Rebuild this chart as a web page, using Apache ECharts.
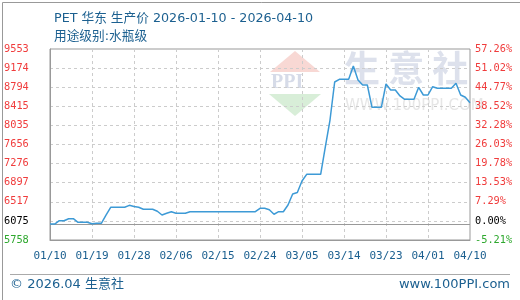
<!DOCTYPE html>
<html>
<head>
<meta charset="utf-8">
<script src="https://cdn.jsdelivr.net/npm/echarts@6/dist/echarts.min.js"></script>
<style>
html,body{margin:0;padding:0;background:#fff;}
#c{width:520px;height:300px;}
</style>
</head>
<body>
<div id="c"></div>
<script>
var categories = [
'01/10','01/11','01/12','01/13','01/14','01/15','01/16','01/17','01/18','01/19',
'01/20','01/21','01/22','01/23','01/24','01/25','01/26','01/27','01/28','01/29',
'01/30','01/31','02/01','02/02','02/03','02/04','02/05','02/06','02/07','02/08',
'02/09','02/10','02/11','02/12','02/13','02/14','02/15','02/16','02/17','02/18',
'02/19','02/20','02/21','02/22','02/23','02/24','02/25','02/26','02/27','02/28',
'03/01','03/02','03/03','03/04','03/05','03/06','03/07','03/08','03/09','03/10',
'03/11','03/12','03/13','03/14','03/15','03/16','03/17','03/18','03/19','03/20',
'03/21','03/22','03/23','03/24','03/25','03/26','03/27','03/28','03/29','03/30',
'03/31','04/01','04/02','04/03','04/04','04/05','04/06','04/07','04/08','04/09',
'04/10'];

var prices = [
6075,6075,6141,6141,6181,6181,6110,6110,6110,6080,
6090,6090,6250,6408,6408,6408,6408,6447,6425,6408,
6368,6368,6368,6330,6255,6289,6320,6289,6289,6289,
6320,6320,6320,6320,6320,6320,6320,6320,6320,6320,
6320,6320,6320,6320,6320,6388,6388,6360,6269,6320,
6320,6453,6672,6700,6930,7063,7063,7063,7063,7606,
8142,8897,8951,8951,8951,9215,8937,8838,8838,8395,
8395,8395,8858,8739,8739,8620,8554,8554,8554,8792,
8639,8639,8804,8772,8772,8772,8772,8872,8639,8594,
8486];

var leftTickLabels = ['5758','6075','6517','6897','7276','7656','8035','8415','8794','9174','9553'];
var rightTickLabels = ['-5.21%','0.00%','7.29%','13.53%','19.78%','26.03%','32.28%','38.52%','44.77%','51.02%','57.26%'];
var basePrice = 6075;
var axisMin = 5758, axisMax = 9553;

var chart = echarts.init(document.getElementById('c'));
var interval = (axisMax - axisMin) / 10;
function tickIndex(v){ return Math.round((v - axisMin) / interval); }
function styleKey(i){ return i === 0 ? 'g' : (i === 1 ? 'k' : 'r'); }
var labelFont = '"DejaVu Sans Mono", monospace';
var rich = {
  r:{color:'#f03c3c', fontFamily:labelFont, fontSize:10.3},
  k:{color:'#000000', fontFamily:labelFont, fontSize:10.3},
  g:{color:'#2ea82e', fontFamily:labelFont, fontSize:10.3}
};
var blue = '#1c6090';
var titleFont = '"DejaVu Sans","Noto Sans CJK SC",sans-serif';

chart.setOption({
  animation:false,
  backgroundColor:'#fff',
  title:[
    {text:'PET 华东 生产价 2026-01-10 - 2026-04-10', left:49, top:7,
     textStyle:{color:blue, fontSize:12.7, fontWeight:'normal', fontFamily:titleFont}},
    {text:'用途级别:水瓶级', left:49, top:25,
     textStyle:{color:blue, fontSize:12.7, fontWeight:'normal', fontFamily:titleFont}}
  ],
  grid:{left:50, right:50, top:49, bottom:60, show:true, borderColor:'#999', borderWidth:1, backgroundColor:'transparent'},
  graphic:[
    {type:'rect', left:0, top:0, shape:{width:519, height:299}, style:{fill:'none', stroke:'#999', lineWidth:1}, z:-10},
    {type:'polygon', shape:{points:[[295,51],[270,72],[320,72]]}, style:{fill:'#f8d8d4'}, z:-5},
    {type:'text', left:271, top:73, style:{text:'PPI', fontSize:20, fontWeight:'bold', fontFamily:'"Liberation Serif",serif', fill:'#d6dbe8'}, z:-5},
    {type:'polygon', shape:{points:[[269,94],[321,94],[295,116]]}, style:{fill:'#d8eed8'}, z:-5},
    {type:'text', left:344, top:50, style:{text:'生 意 社', fontSize:36, fontWeight:'bold', fontFamily:'"Noto Sans CJK SC",sans-serif', fill:'#dde1ec'}, z:-5},
    {type:'text', left:345, top:99, style:{text:'WWW.100PPI.COM', fontSize:15, fontFamily:'"DejaVu Sans",sans-serif', fill:'#e6e6e6'}, z:-5},
    {type:'line', shape:{x1:10, y1:274.5, x2:510, y2:274.5}, style:{stroke:'#aaa', lineWidth:1}},
    {type:'text', left:10, top:278, style:{text:'© 2026.04 生意社', fontSize:13, fontFamily:titleFont, fill:blue}},
    {type:'text', right:10, top:278, style:{text:'www.100PPI.com', fontSize:13, fontFamily:'"DejaVu Sans",sans-serif', fill:blue}}
  ],
  xAxis:{
    type:'category', data:categories, boundaryGap:false,
    axisLine:{lineStyle:{color:'#999'}},
    axisTick:{show:false},
    axisLabel:{interval:8, color:blue, fontFamily:labelFont, fontSize:11, margin:11},
    splitLine:{show:true, interval:8, lineStyle:{color:'#ccc', type:[3,3]}}
  },
  yAxis:[
    {type:'value', min:axisMin, max:axisMax, interval:interval, position:'left',
     axisLine:{show:true, lineStyle:{color:'#999'}}, axisTick:{show:false},
     splitLine:{lineStyle:{color:'#ccc', type:[3,3]}},
     axisLabel:{align:'left', margin:46, rich:rich,
       formatter:function(v){ var i=tickIndex(v); return '{'+styleKey(i)+'|'+leftTickLabels[i]+'}'; }}},
    {type:'value', min:axisMin, max:axisMax, interval:interval, position:'right',
     axisLine:{show:false}, axisTick:{show:false}, splitLine:{show:false},
     axisLabel:{align:'left', margin:5, rich:rich,
       formatter:function(v){ var i=tickIndex(v); return '{'+styleKey(i)+'|'+rightTickLabels[i]+'}'; }}}
  ],
  series:[{
    type:'line', data:prices, showSymbol:false, symbol:'none',
    lineStyle:{color:'#3d9ad6', width:1.5},
    markLine:{silent:true, symbol:'none', label:{show:false},
      lineStyle:{color:'#999', type:'solid', width:1},
      data:[{yAxis:basePrice}]},
    z:5
  }]
});
</script>
</body>
</html>
